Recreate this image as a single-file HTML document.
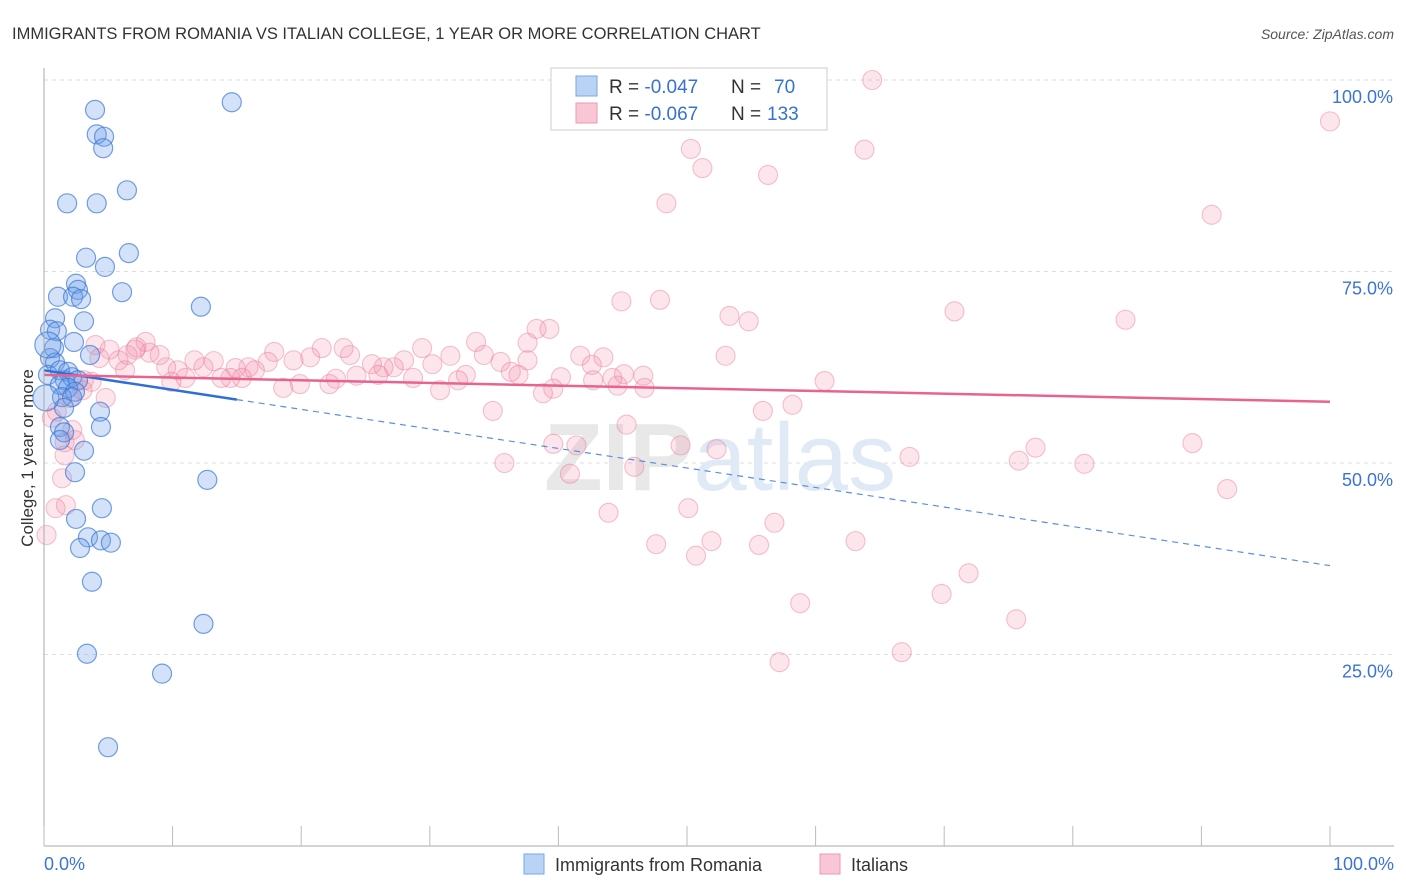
<!DOCTYPE html>
<html><head><meta charset="utf-8"><style>
body{margin:0;background:#fff;font-family:"Liberation Sans",sans-serif;}
#wrap{position:relative;width:1406px;height:892px;overflow:hidden;}
svg text{font-family:"Liberation Sans",sans-serif;}
</style></head><body>
<div id="wrap">
<svg id="chart" width="1406" height="892">
<text x="12" y="39" font-size="16.5" fill="#333">IMMIGRANTS FROM ROMANIA VS ITALIAN COLLEGE, 1 YEAR OR MORE CORRELATION CHART</text>
<text x="1394" y="39" font-size="14" fill="#555" text-anchor="end" font-style="italic">Source: ZipAtlas.com</text>
<text transform="translate(33,458) rotate(-90)" font-size="17" fill="#333" text-anchor="middle">College, 1 year or more</text>
<g id="grid"></g>
<text x="720" y="490" font-size="96" text-anchor="middle" font-family="Liberation Serif"><tspan fill="#e8e8e8" font-weight="bold">ZIP</tspan><tspan fill="#e0eaf7" font-family="Liberation Sans">atlas</tspan></text>
<g id="pts"></g>
<g id="trends"></g>
<line x1="44" y1="68" x2="44" y2="846" stroke="#aaa"/>
<line x1="44" y1="846" x2="1394" y2="846" stroke="#aaa"/>
<g id="axes"></g>
<g>
<rect x="551" y="68" width="276" height="62" fill="#fff" stroke="#ddd" stroke-width="1.5"/>
<rect x="576" y="76" width="21" height="20" fill="#b9d3f5" stroke="#7aa6e6"/>
<rect x="576" y="103" width="21" height="20" fill="#f8c6d5" stroke="#ec9ab4"/>
<text x="609" y="93" font-size="19" fill="#333">R = <tspan fill="#3572d4">-0.047</tspan><tspan x="731">N = </tspan><tspan x="774" fill="#3572d4">70</tspan></text>
<text x="609" y="120" font-size="19" fill="#333">R = <tspan fill="#3572d4">-0.067</tspan><tspan x="731">N = </tspan><tspan x="767" fill="#3572d4">133</tspan></text>
</g>
<g>
<rect x="524" y="854" width="20" height="20" fill="#b9d3f5" stroke="#7aa6e6"/>
<text x="555" y="871" font-size="18" fill="#333">Immigrants from Romania</text>
<rect x="820" y="854" width="20" height="20" fill="#f8c6d5" stroke="#ec9ab4"/>
<text x="851" y="871" font-size="18" fill="#333">Italians</text>
</g>
</svg>
</div>
<script>
const blueX=[3.97,14.6,4.1,4.67,4.6,1.8,4.1,6.45,3.27,6.6,4.74,2.49,2.64,1.09,2.26,2.88,6.07,12.2,3.11,0.86,0.47,1.0,2.33,0.78,3.58,0.47,0.86,0.31,1.24,1.87,1.63,2.18,2.64,1.24,1.87,2.41,1.4,2.18,1.56,4.35,4.43,1.24,1.56,1.24,3.11,2.41,12.7,4.5,2.49,3.42,4.43,5.2,2.8,3.73,12.4,3.34,9.18,4.98,0.15,0.3];
const blueY=[96.1,97.1,92.9,92.6,91.1,83.9,83.9,85.6,76.8,77.4,75.6,73.4,72.6,71.7,71.7,71.4,72.3,70.4,68.5,68.9,67.4,67.2,65.8,65.0,64.1,63.7,63.1,61.5,62.1,61.9,60.8,61.2,60.8,60.2,59.8,59.3,58.6,58.6,57.2,56.7,54.7,54.7,54.0,53.0,51.6,48.8,47.8,44.1,42.7,40.3,39.9,39.6,38.9,34.5,29.0,25.1,22.5,12.9,58.5,65.4];
const pinkX=[64.4,100,50.3,63.8,51.2,56.3,48.4,90.8,44.9,47.9,70.8,53.3,54.8,84.1,53.0,60.7,38.3,39.3,37.6,33.6,34.2,32.8,30.8,31.6,29.4,30.2,28.0,27.2,26.4,25.5,26.0,24.3,22.7,22.2,23.8,23.3,21.6,20.7,19.4,17.9,17.4,16.4,15.9,14.9,14.5,13.8,13.2,12.4,11.7,11.0,10.4,9.5,9.0,8.2,7.9,7.2,6.5,5.8,5.1,4.3,3.7,3.0,2.0,1.0,2.2,1.6,1.4,0.9,0.2,1.6,35.5,36.3,36.9,37.6,40.2,41.7,43.5,42.6,44.6,46.7,46.6,42.7,39.6,38.8,34.9,35.8,39.6,40.9,41.4,45.3,45.9,49.5,52.3,47.6,50.7,51.9,43.9,50.1,55.6,56.8,58.8,57.2,63.1,66.7,67.3,69.8,71.9,75.6,75.8,77.1,80.9,89.3,92.0,55.9,58.2,45.1,44.2,32.2,28.7,19.9,18.6,15.4,9.9,4.8,6.3,7.1,4.0,3.1,2.4,0.6,1.7];
const pinkY=[100.0,94.6,91.0,90.9,88.5,87.6,83.9,82.4,71.1,71.3,69.8,69.2,68.5,68.7,64.0,60.7,67.5,67.5,65.7,65.8,64.1,61.5,59.5,64.0,65.0,62.9,63.4,62.5,62.5,62.9,61.5,61.4,61.0,60.3,64.1,65.0,65.0,63.8,63.4,64.5,63.2,62.1,62.5,62.4,61.1,61.1,63.3,62.5,63.4,61.1,62.1,62.5,64.1,64.4,65.8,65.1,64.1,63.4,64.8,63.7,60.6,59.5,58.5,56.7,54.3,51.0,48.0,44.1,40.6,52.7,63.2,61.9,61.5,63.4,61.2,64.0,63.8,62.8,60.1,59.8,61.4,60.8,59.7,59.1,56.8,50.0,52.5,48.6,52.3,55.0,49.5,52.3,51.8,39.4,37.9,39.8,43.5,44.1,39.3,42.2,31.7,24.0,39.8,25.3,50.8,32.9,35.6,29.6,50.3,52.0,49.9,52.6,46.6,56.8,57.6,61.6,61.1,60.8,61.1,60.3,59.8,61.1,60.6,58.5,62.1,64.8,65.4,60.8,53.0,55.9,44.5];
const blueTrend=[62.1,36.6];
const pinkTrend=[61.5,58.0];
const blueSolidEnd=15;
const yTicks=[25,50,75,100];
const xTickVals=[0,10,20,30,40,50,60,70,80,90,100];

const sx=v=>44+v*12.86, sy=v=>846-v*7.66;
const NS='http://www.w3.org/2000/svg';
function mk(tag,attrs,parent){const e=document.createElementNS(NS,tag);for(const k in attrs)e.setAttribute(k,attrs[k]);parent.appendChild(e);return e;}
const grid=document.getElementById('grid'),axes=document.getElementById('axes'),pts=document.getElementById('pts'),tr=document.getElementById('trends');
yTicks.forEach(t=>{
  const l=mk('line',{x1:44,x2:1394,y1:sy(t),y2:sy(t),stroke:'#ddd','stroke-dasharray':'4,4'},grid);
  
  
  const tx=mk('text',{x:1393,y:sy(t)+23,'font-size':18,fill:'#3a74d6','text-anchor':'end'},axes);
  tx.textContent=t.toFixed(1)+'%';
  
  
});
xTickVals.forEach(t=>{
  const l=mk('line',{x1:sx(t),x2:sx(t),y1:846,y2:826,stroke:'#bbb'},axes);
  
  
});
[[0,'start',44],[100,'end',1394]].forEach(([v,a,x])=>{
  const tx=mk('text',{x:x,y:870,'font-size':18,fill:'#3a74d6','text-anchor':a},axes);
  tx.textContent=v.toFixed(1)+'%';
  
  
});
pinkX.forEach((x,i)=>{
  const c=mk('circle',{cx:sx(x),cy:sy(pinkY[i]),r:9.5,fill:'rgba(242,140,170,0.22)',stroke:'rgba(232,120,155,0.45)','stroke-width':1.1},pts);
  
  
});
blueX.forEach((x,i)=>{
  const c=mk('circle',{cx:sx(x),cy:sy(blueY[i]),r:(i>=58?13:9.5),fill:'rgba(110,160,232,0.3)',stroke:'rgba(60,120,215,0.7)','stroke-width':1.2},pts);
  
  
});
const by=x=>blueTrend[0]+(blueTrend[1]-blueTrend[0])*x/100;
let l=mk('line',{x1:sx(0),y1:sy(by(0)),x2:sx(blueSolidEnd),y2:sy(by(blueSolidEnd)),stroke:'#2f6fd6','stroke-width':2.5},tr);


l=mk('line',{x1:sx(blueSolidEnd),y1:sy(by(blueSolidEnd)),x2:sx(100),y2:sy(by(100)),stroke:'#5b8fe0','stroke-width':1.2,'stroke-dasharray':'6,5'},tr);


l=mk('line',{x1:sx(0),y1:sy(pinkTrend[0]),x2:sx(100),y2:sy(pinkTrend[1]),stroke:'#e8638f','stroke-width':2.5},tr);


</script>
</body></html>
